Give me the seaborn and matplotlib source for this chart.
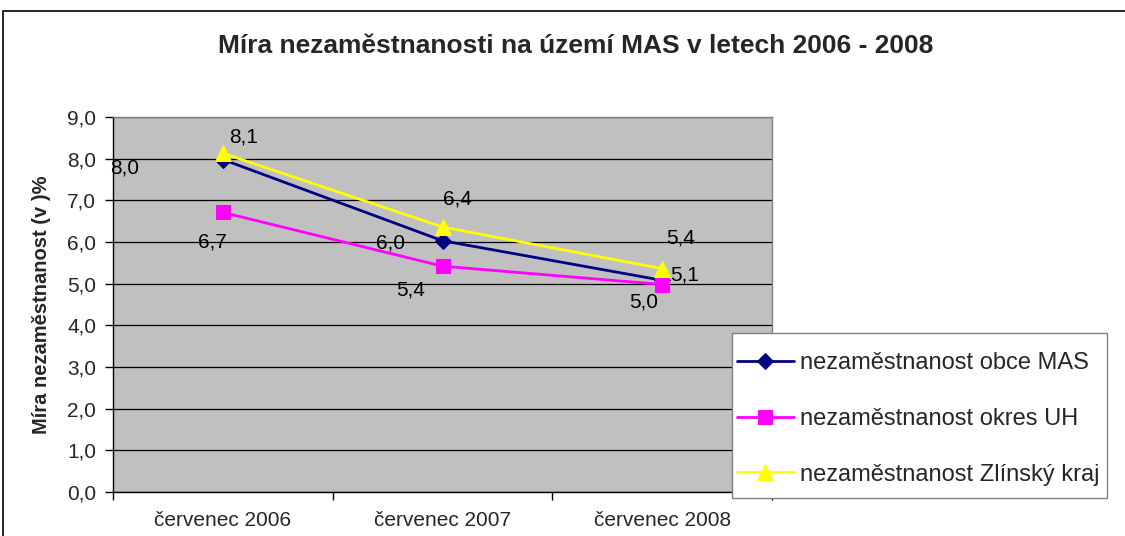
import matplotlib
matplotlib.use("Agg")
import matplotlib.pyplot as plt
import matplotlib.patches as mpatches
from matplotlib.ticker import FixedLocator, FuncFormatter, NullFormatter
import seaborn as sns
import pandas as pd

# ---- data ----
periods = ["červenec 2006", "červenec 2007", "červenec 2008"]
mas = [7.98, 6.03, 5.08]
okres_uh = [6.71, 5.42, 4.98]
zlinsky = [8.13, 6.36, 5.36]
series_names = ["nezaměstnanost obce MAS", "nezaměstnanost okres UH", "nezaměstnanost Zlínský kraj"]
title = "Míra nezaměstnanosti na území MAS v letech 2006 - 2008"
ylabel = "Míra nezaměstnanost (v )%"
yticks = [0, 1, 2, 3, 4, 5, 6, 7, 8, 9]

# ---- styles ----
colors = ["#000080", "#FF00FF", "#FFFF00"]
markers = ["D", "s", "^"]
msizes = [8, 10, 11.5]
# label offsets in pixels (dx, dy up)
offsets = [
    [(-98, -8), (-52, -2), (22, 5)],
    [(-10, -30), (-32, -24), (-19, -18)],
    [(21, 16), (15, 28), (18, 31)],
]

sns.set_theme(style="white")
plt.rcParams["font.family"] = ["Liberation Sans", "DejaVu Sans"]

fig = plt.figure(figsize=(11.25, 5.36), dpi=100)
ax = fig.add_axes([113 / 1125, 1 - 492 / 536, (772 - 113) / 1125, (492 - 117) / 536])
ax.set_facecolor("#C0C0C0")

values = [mas, okres_uh, zlinsky]
frames = []
for name, vals in zip(series_names, values):
    frames.append(pd.DataFrame({"x": list(range(len(periods))), "value": vals, "series": name}))
df = pd.concat(frames, ignore_index=True)

handles = []
for i, name in enumerate(series_names):
    sub = df[df["series"] == name]
    sns.lineplot(data=sub, x="x", y="value", ax=ax, color=colors[i], marker=markers[i],
                 markersize=msizes[i], markeredgecolor=colors[i], markerfacecolor=colors[i],
                 linewidth=2.0, legend=False, zorder=3 + i)
    handles.append(ax.lines[-1])
    for j, v in enumerate(values[i]):
        dx, dy = offsets[i][j]
        ax.annotate(f"{v:.1f}".replace(".", ","), (j, v), xytext=(dx * 0.72, dy * 0.72),
                    textcoords="offset points", ha="center", va="center", fontsize=15,
                    color="black", zorder=10)

ax.set_ylim(0, 9)
ax.set_xlim(-0.5, 2.5)
ax.set_yticks(yticks)
ax.yaxis.set_major_formatter(FuncFormatter(lambda v, p: f"{v:.1f}".replace(".", ",")))
ax.grid(axis="y", color="black", linewidth=0.9)
ax.grid(axis="x", visible=False)
ax.set_axisbelow(True)

ax.xaxis.set_major_locator(FixedLocator([-0.5, 0.5, 1.5, 2.5]))
ax.xaxis.set_major_formatter(NullFormatter())
ax.xaxis.set_minor_locator(FixedLocator([0, 1, 2]))
ax.set_xticklabels(periods, minor=True)
ax.tick_params(axis="x", which="major", length=6, width=1, color="black", direction="out", bottom=True)
ax.tick_params(axis="x", which="minor", length=0, pad=14, labelsize=15)
ax.tick_params(axis="y", length=6, width=1, color="black", direction="out", left=True, labelsize=15, pad=6)
ax.set_xlabel("")
ax.set_ylabel(ylabel, fontsize=14.5, fontweight="bold", va="center")
ax.yaxis.set_label_coords((42 - 113) / 659, 0.5)

for s in ["left", "bottom"]:
    ax.spines[s].set_color("black")
    ax.spines[s].set_linewidth(1)
for s in ["top", "right"]:
    ax.spines[s].set_color("#808080")
    ax.spines[s].set_linewidth(1)

fig.text(576 / 1125, 1 - 46 / 536, title, ha="center", va="center", fontsize=19, fontweight="bold")

# legend box (drawn as a figure patch) and legend entries inside it
fig.patches.append(mpatches.Rectangle((732 / 1125, 1 - 498 / 536), 375 / 1125, 165 / 536,
                                      transform=fig.transFigure, facecolor="white",
                                      edgecolor="#808080", linewidth=1, zorder=4))
leg = fig.legend(handles, series_names, loc="center left",
                 bbox_to_anchor=(737 / 1125, 1 - 419 / 536),
                 frameon=False, fontsize=17,
                 labelspacing=1.42, handlelength=2.4, handletextpad=0.25, borderpad=0,
                 borderaxespad=0)
leg.set_zorder(5)

fig.patches.append(mpatches.Rectangle((3 / 1125, -0.2), 2, 1 - 11 / 536 + 0.2, transform=fig.transFigure,
                                      fill=False, edgecolor="black", linewidth=1.2))

fig.savefig("out.png", dpi=100)
